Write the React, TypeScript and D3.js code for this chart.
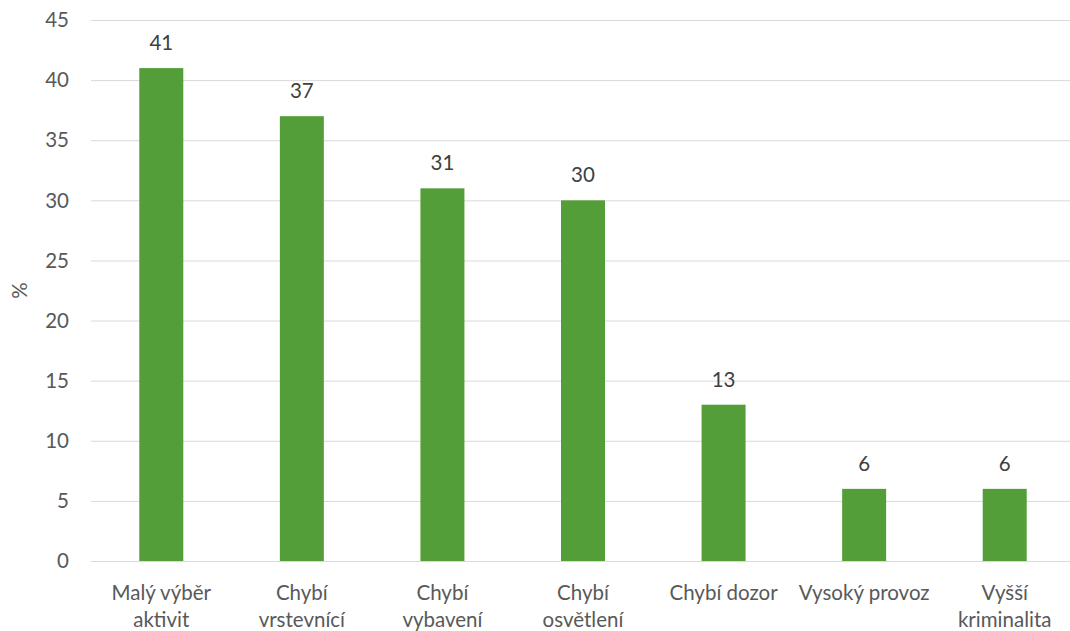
import { useRef, useEffect } from 'react';
import * as d3 from 'd3';

const categories: string[][] = [
  ['Malý výběr', 'aktivit'],
  ['Chybí', 'vrstevnící'],
  ['Chybí', 'vybavení'],
  ['Chybí', 'osvětlení'],
  ['Chybí dozor'],
  ['Vysoký provoz'],
  ['Vyšší', 'kriminalita'],
];
const values: number[] = [41, 37, 31, 30, 13, 6, 6];
const yTicks: number[] = [0, 5, 10, 15, 20, 25, 30, 35, 40, 45];

const width = 1070;
const height = 631;
const margin = { top: 20, right: -5, bottom: 70, left: 91 };
const font = 'Lato, "Open Sans", sans-serif';
const fontSize = 20.5;
const textColor = '#595959';

export default function App(): JSX.Element {
  const svgRef = useRef<SVGSVGElement | null>(null);

  useEffect(() => {
    if (!svgRef.current) return;
    const svg = d3.select(svgRef.current);
    svg.selectAll('*').remove();

    const idx = categories.map((_, i) => String(i));
    const x = d3.scaleBand<string>()
      .domain(idx)
      .range([margin.left, width - margin.right])
      .paddingInner(0.687)
      .paddingOuter(0.3435);

    const y = d3.scaleLinear()
      .domain([0, 45])
      .range([height - margin.bottom, margin.top]);

    // gridlines
    svg.append('g')
      .selectAll('line')
      .data(yTicks)
      .join('line')
      .attr('x1', margin.left)
      .attr('x2', width - margin.right)
      .attr('y1', d => y(d) + 0.5)
      .attr('y2', d => y(d) + 0.5)
      .attr('stroke', '#d9d9d9')
      .attr('stroke-width', 1);

    // y tick labels
    svg.append('g')
      .selectAll('text')
      .data(yTicks)
      .join('text')
      .attr('x', 69)
      .attr('y', d => y(d))
      .attr('dy', '0.35em')
      .attr('text-anchor', 'end')
      .attr('font-family', font)
      .attr('font-size', fontSize)
      .attr('fill', textColor)
      .text(d => d);

    // axis title
    svg.append('text')
      .attr('transform', `translate(27,${(y(0) + y(45)) / 2}) rotate(-90)`)
      .attr('text-anchor', 'middle')
      .attr('font-family', font)
      .attr('font-size', fontSize)
      .attr('fill', textColor)
      .text('%');

    // bars
    svg.append('g')
      .selectAll('rect')
      .data(values)
      .join('rect')
      .attr('x', (_, i) => x(String(i)) ?? 0)
      .attr('y', d => y(d))
      .attr('width', x.bandwidth())
      .attr('height', d => y(0) - y(d))
      .attr('fill', '#549e39');

    // value labels
    svg.append('g')
      .selectAll('text')
      .data(values)
      .join('text')
      .attr('x', (_, i) => (x(String(i)) ?? 0) + x.bandwidth() / 2)
      .attr('y', d => y(d) - 18)
      .attr('text-anchor', 'middle')
      .attr('font-family', font)
      .attr('font-size', fontSize)
      .attr('fill', '#404040')
      .text(d => d);

    // category labels
    const cat = svg.append('g')
      .selectAll('text')
      .data(categories)
      .join('text')
      .attr('x', (_, i) => (x(String(i)) ?? 0) + x.bandwidth() / 2)
      .attr('y', 600)
      .attr('text-anchor', 'middle')
      .attr('font-family', font)
      .attr('font-size', fontSize)
      .attr('fill', textColor);
    cat.selectAll('tspan')
      .data((d, i) => d.map(line => ({ line, i })))
      .join('tspan')
      .attr('x', d => (x(String(d.i)) ?? 0) + x.bandwidth() / 2)
      .attr('dy', (_, j) => (j === 0 ? 0 : 27))
      .text(d => d.line);
  }, []);

  return (
    <svg
      ref={svgRef}
      width={width}
      height={height}
      style={{ position: 'absolute', left: 0, top: 0, background: '#fff' }}
    />
  );
}
